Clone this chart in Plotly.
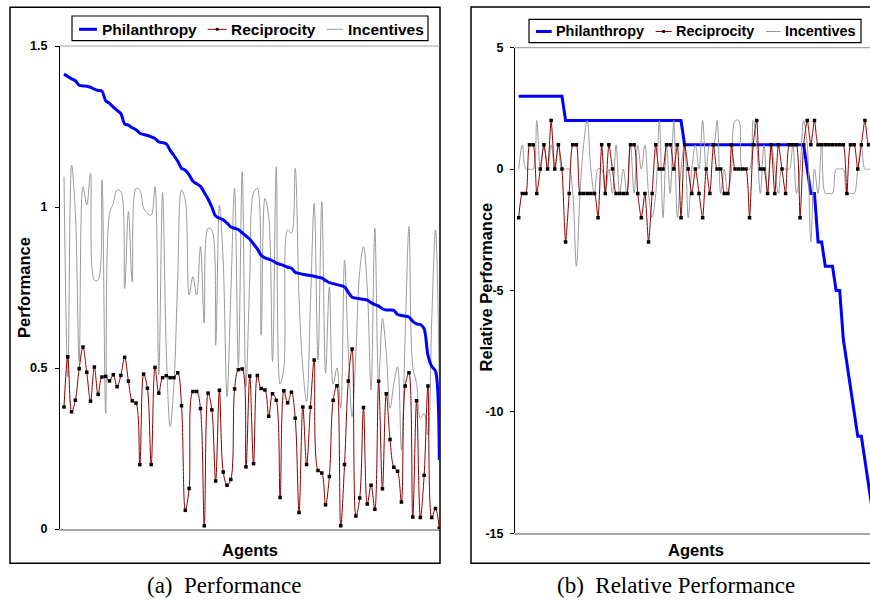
import plotly.graph_objects as go

# ---------------- data ----------------
# (a) Performance: 100 agents
phil_a = [1.413, 1.405, 1.398, 1.392, 1.378, 1.376, 1.375, 1.372, 1.366, 1.362,
          1.360, 1.330, 1.322, 1.310, 1.300, 1.290, 1.258, 1.254, 1.246, 1.240,
          1.229, 1.225, 1.222, 1.218, 1.213, 1.202, 1.200, 1.196, 1.176, 1.160,
          1.142, 1.120, 1.114, 1.100, 1.080, 1.072, 1.064, 1.045, 1.025, 1.000,
          0.972, 0.965, 0.960, 0.950, 0.938, 0.934, 0.930, 0.920, 0.910, 0.900,
          0.885, 0.870, 0.850, 0.842, 0.838, 0.833, 0.826, 0.822, 0.818, 0.813,
          0.810, 0.797, 0.794, 0.791, 0.789, 0.787, 0.785, 0.782, 0.780, 0.772,
          0.765, 0.762, 0.759, 0.756, 0.752, 0.735, 0.720, 0.717, 0.715, 0.713,
          0.711, 0.703, 0.697, 0.692, 0.684, 0.680, 0.680, 0.679, 0.666, 0.663,
          0.661, 0.658, 0.645, 0.637, 0.635, 0.622, 0.540, 0.505, 0.490, 0.214]

recip_a = [0.379, 0.535, 0.364, 0.40, 0.498, 0.565, 0.487, 0.397, 0.503, 0.418,
           0.472, 0.474, 0.46, 0.479, 0.442, 0.477, 0.533, 0.459, 0.398, 0.391,
           0.20, 0.481, 0.437, 0.20, 0.502, 0.422, 0.47, 0.476, 0.47, 0.47,
           0.485, 0.383, 0.058, 0.126, 0.427, 0.427, 0.374, 0.010, 0.422, 0.37,
           0.149, 0.431, 0.177, 0.136, 0.154, 0.435, 0.495, 0.497, 0.193, 0.475,
           0.203, 0.477, 0.436, 0.432, 0.35, 0.42, 0.40, 0.098, 0.429, 0.392,
           0.425, 0.344, 0.051, 0.379, 0.20, 0.378, 0.525, 0.182, 0.174, 0.075,
           0.163, 0.40, 0.445, 0.010, 0.20, 0.46, 0.559, 0.04, 0.096, 0.377,
           0.078, 0.136, 0.061, 0.459, 0.125, 0.42, 0.278, 0.192, 0.179, 0.084,
           0.444, 0.485, 0.037, 0.398, 0.036, 0.167, 0.444, 0.036, 0.064, 0.002]

incent_a = [1.094, 0.473, 1.13, 0.98, 0.52, 1.063, 1.006, 1.105, 0.773, 0.773,
            1.084, 0.359, 0.98, 1.011, 1.053, 1.048, 0.747, 0.986, 0.768, 1.058,
            1.053, 0.996, 0.98, 0.975, 1.063, 0.48, 1.045, 0.55, 0.318, 0.45,
            0.78, 1.053, 1.02, 0.727, 0.784, 0.727, 0.877, 0.639, 0.934, 0.929,
            0.571, 1.006, 0.83, 0.411, 0.73, 1.058, 0.504, 1.11, 0.442, 0.78,
            1.043, 1.058, 0.602, 1.027, 0.97, 0.52, 1.125, 0.45, 0.50, 0.929,
            0.918, 1.12, 0.72, 0.50, 0.395, 0.70, 1.011, 0.525, 1.017, 0.484,
            0.752, 0.45, 0.50, 0.375, 0.835, 0.55, 0.349, 0.55, 0.80, 0.877,
            0.75, 0.432, 0.934, 0.452, 0.654, 0.55, 0.375, 0.45, 0.504, 0.245,
            0.60, 0.939, 0.504, 0.452, 0.344, 0.359, 0.292, 0.65, 0.929, 0.45]

# (b) Relative Performance: visible agents
phil_b = [3] * 13 + [2] * 33 + [1] * 34 + [0, -1, -1, -3, -3, -4, -4, -4, -5, -5,
                                           -7, -8, -9, -10, -11, -11, -12, -13, -14]

recip_b = [-2, -1, -1, 1, 1, -1, 0, 1, 0, 2,
           0, 1, 0, -3, -1, 1, 1, -1, -1, -1,
           -1, -1, -2, 1, -1, 1, 0, -1, -1, -1,
           -1, 1, 1, -1, -2, -1, -3, -1, 1, 0,
           0, 1, 1, 0, 1, -2, 1, 0, -1, 0,
           -1, -2, 0, -1, 1, 0, 0, -1, -1, 1,
           0, 0, 0, 0, -2, 1, 2, 0, 0, -1,
           1, -1, 1, 0, -1, 1, 1, 1, -2, 1,
           2, 1, 2, 1, 1, 1, 1, 1, 1, 1,
           1, -1, 1, 1, 0, 1, 2, 1, 1]

incent_b = [0, 1, 0, 0, 0, 2, 0, 1, 0, 1,
            0, 1, 0, 0, 0, -1, -4, -1, 1, 2,
            0, -1, 0, 0, -1, 0, -1, 1, -1, 0,
            -1, 1, -1, 1, 0, 1, -1, -2, -1, 2,
            -2, 1, -1, 2, -2, 0, 1, -2, 0, 1,
            0, 2, 0, 1, 1, 2, -1, 0, -1, 0,
            2, 2, 0, 0, 0, 2, 1, -1, 1, -1,
            1, 0, -1, 0, 0, 0, 1, -1, 0, 2,
            1, -3, 0, -1, 1, -1, -1, -1, 0, 0,
            0, -1, -1, -1, 0, 1, 0, 0, 0]

ticks_a = [0, 0.5, 1, 1.5]
ticklabels_a = ["0", "0.5", "1", "1.5"]
ticks_b = [-15, -10, -5, 0, 5]
ticklabels_b = ["-15", "-10", "-5", "0", "5"]
series_names = ["Philanthropy", "Reciprocity", "Incentives"]

# ---------------- styling ----------------
W, H = 870, 601
BLUE = "#0000FF"
RED = "#8B0000"
GRAY = "#9A9A9A"
SANS = "Arial, Liberation Sans, sans-serif"
SERIF = "Times New Roman, Liberation Serif, serif"


def fx(x):
    return x / W


def fy(y):
    return 1 - y / H


xa = list(range(len(phil_a)))
xb = list(range(len(phil_b)))

fig = go.Figure()

# panel (a)
fig.add_trace(go.Scatter(x=xa, y=incent_a, mode="lines", xaxis="x", yaxis="y",
                         line=dict(color=GRAY, width=1, shape="spline", smoothing=1)))
fig.add_trace(go.Scatter(x=xa, y=phil_a, mode="lines", xaxis="x", yaxis="y",
                         line=dict(color=BLUE, width=3, shape="spline", smoothing=0.8)))
fig.add_trace(go.Scatter(x=xa, y=recip_a, mode="lines+markers", xaxis="x", yaxis="y",
                         line=dict(color=RED, width=1, shape="spline", smoothing=1),
                         marker=dict(symbol="square", size=3.5, color="black")))

# panel (b)
fig.add_trace(go.Scatter(x=xb, y=phil_b, mode="lines", xaxis="x2", yaxis="y2",
                         line=dict(color=BLUE, width=3)))
fig.add_trace(go.Scatter(x=xb, y=incent_b, mode="lines", xaxis="x2", yaxis="y2",
                         line=dict(color=GRAY, width=1, shape="spline", smoothing=1)))
fig.add_trace(go.Scatter(x=xb, y=recip_b, mode="lines+markers", xaxis="x2", yaxis="y2",
                         line=dict(color=RED, width=1, shape="spline", smoothing=0.6),
                         marker=dict(symbol="square", size=3.5, color="black")))

tickfont = dict(family=SANS, size=12.5, color="black", weight="bold")

fig.update_layout(
    width=W, height=H, margin=dict(l=0, r=0, t=0, b=0, pad=0, autoexpand=False),
    paper_bgcolor="white", plot_bgcolor="white", showlegend=False,
    xaxis=dict(domain=[fx(60), fx(439.5)], range=[-1.056, 99.05], anchor="y",
               showticklabels=False, ticks="", showgrid=False, zeroline=False,
               showline=True, linecolor="#A6A6A6", linewidth=1.5, automargin=False),
    yaxis=dict(domain=[fy(529), fy(46)], range=[0, 1.5], anchor="x",
               tickvals=ticks_a, ticktext=ticklabels_a, ticks="outside", ticklen=4,
               tickcolor="black", tickwidth=1, showgrid=False, zeroline=False,
               showline=True, linecolor="black", linewidth=1, tickfont=tickfont,
               ticklabelstandoff=5, automargin=False),
    xaxis2=dict(domain=[fx(515), 1.0], range=[-1.026, 97.4], anchor="y2",
                showticklabels=False, ticks="", showgrid=False, zeroline=False,
                showline=True, linecolor="#A6A6A6", linewidth=1.5, automargin=False),
    yaxis2=dict(domain=[fy(533.3), fy(47.7)], range=[-15, 5], anchor="x2",
                tickvals=ticks_b, ticktext=ticklabels_b, ticks="outside", ticklen=4,
                tickcolor="black", tickwidth=1, showgrid=False, zeroline=False,
                showline=True, linecolor="black", linewidth=1, tickfont=tickfont,
                ticklabelstandoff=4, automargin=False),
)

shapes = []
# outer chart boxes
shapes.append(dict(type="rect", xref="paper", yref="paper", x0=fx(10), x1=fx(440),
                   y0=fy(563.3), y1=fy(7.3), line=dict(color="black", width=1.5)))
shapes.append(dict(type="rect", xref="paper", yref="paper", x0=fx(471), x1=fx(890),
                   y0=fy(563.3), y1=fy(7), line=dict(color="black", width=1.5)))
# top plot-area lines
shapes.append(dict(type="line", xref="paper", yref="paper", x0=fx(60), x1=fx(439.5),
                   y0=fy(46), y1=fy(46), line=dict(color="#A6A6A6", width=1.2)))
shapes.append(dict(type="line", xref="paper", yref="paper", x0=fx(515), x1=1.0,
                   y0=fy(47.7), y1=fy(47.7), line=dict(color="#A6A6A6", width=1.2)))

annotations = []


def legend(box, ly, fsize, blue_seg, red_seg, gray_seg, text_x):
    x0, x1, y0, y1 = box
    shapes.append(dict(type="rect", xref="paper", yref="paper", x0=fx(x0), x1=fx(x1),
                       y0=fy(y1), y1=fy(y0), line=dict(color="black", width=1.2),
                       fillcolor="white", layer="above"))
    for (sx0, sx1), col, wd in [(blue_seg, BLUE, 3), (red_seg, RED, 1), (gray_seg, GRAY, 1)]:
        shapes.append(dict(type="line", xref="paper", yref="paper", x0=fx(sx0), x1=fx(sx1),
                           y0=fy(ly), y1=fy(ly), line=dict(color=col, width=wd)))
    mx = (red_seg[0] + red_seg[1]) / 2
    shapes.append(dict(type="rect", xref="paper", yref="paper", x0=fx(mx - 1.4), x1=fx(mx + 1.4),
                       y0=fy(ly + 1.4), y1=fy(ly - 1.4), line=dict(width=0), fillcolor="black"))
    for name, tx in zip(series_names, text_x):
        annotations.append(dict(text=name, xref="paper", yref="paper", x=fx(tx), y=fy(ly),
                                xanchor="left", yanchor="middle", showarrow=False,
                                font=dict(family=SANS, size=fsize, color="black", weight="bold")))


legend((72, 428, 16, 40.7), 29.3, 15.5, (79, 97), (207.7, 226.7), (326.7, 343.3), (100, 229, 346))
legend((529, 861, 19.3, 42.7), 31.5, 14.4, (536, 551.7), (655.7, 671.7), (766, 780.7), (554, 674, 783))

title_font = dict(family=SANS, size=16.5, color="black", weight="bold")
annotations += [
    dict(text="Performance", x=fx(23.5), y=fy(287.5), textangle=-90),
    dict(text="Relative Performance", x=fx(485), y=fy(287.5), textangle=-90),
    dict(text="Agents", x=fx(249.7), y=fy(549.5)),
    dict(text="Agents", x=fx(695.8), y=fy(550)),
]
for a in annotations[-4:]:
    a.update(xref="paper", yref="paper", xanchor="center", yanchor="middle",
             showarrow=False, font=title_font)

cap_font = dict(family=SERIF, size=23, color="black")
annotations += [
    dict(text="(a)\u00a0\u00a0Performance", x=fx(224.7), y=fy(585.7), xref="paper", yref="paper",
         xanchor="center", yanchor="middle", showarrow=False, font=cap_font),
    dict(text="(b)\u00a0\u00a0Relative Performance", x=fx(676), y=fy(585.7), xref="paper",
         yref="paper", xanchor="center", yanchor="middle", showarrow=False, font=cap_font),
]

fig.update_layout(shapes=shapes, annotations=annotations)
fig.write_html("out.html")
